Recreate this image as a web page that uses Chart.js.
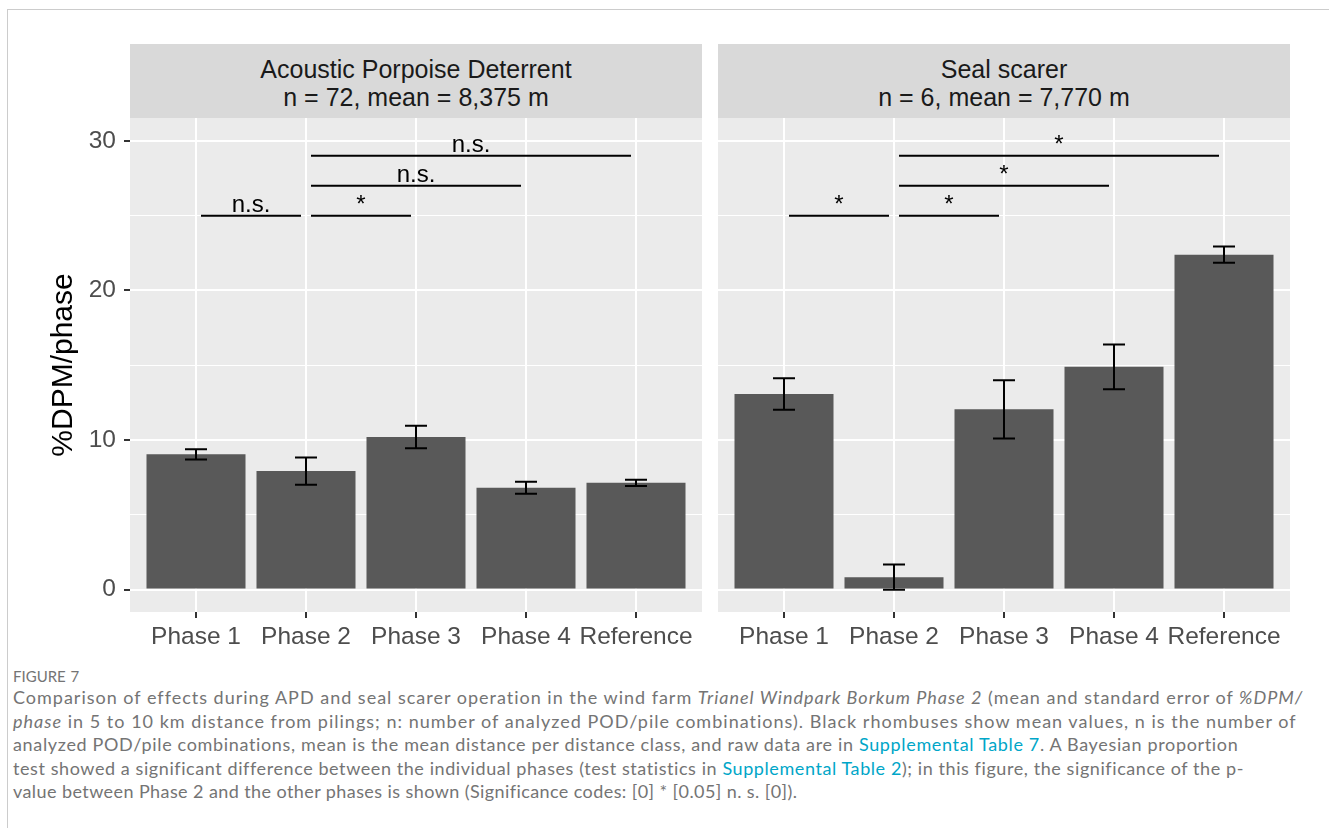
<!DOCTYPE html>
<html>
<head>
<meta charset="utf-8">
<script src="https://cdn.jsdelivr.net/npm/chart.js@4.4.1/dist/chart.umd.min.js"></script>
<style>
  html, body { margin: 0; padding: 0; background: #ffffff; }
  body { width: 1329px; height: 828px; position: relative; overflow: hidden;
         font-family: "Liberation Sans", Arial, sans-serif; }
  #frame { position: absolute; left: 7px; top: 9px; width: 1400px; height: 900px;
           border-top: 1px solid #cccccc; border-left: 1px solid #cccccc; }
  canvas { position: absolute; top: 0; }
  #apd { left: 0; }
  #seal { left: 710px; }
  .strip { position: absolute; top: 44px; width: 572px; height: 74px; background: #d9d9d9;
           color: #1a1a1a; font-size: 25px; line-height: 28px; text-align: center;
           box-sizing: border-box; padding-top: 11px; }
  #stripApd { left: 130px; }
  #stripSeal { left: 718px; }
  #caption { position: absolute; left: 13px; top: 666px; font-family: Lato, "Open Sans", sans-serif;
             color: #747474; }
  #caption .fig { font-size: 15px; line-height: 20px; word-spacing: 1px; }
  #caption .line { font-size: 18px; line-height: 23.5px; white-space: nowrap; }
  #caption span { white-space: nowrap; }
  #caption a { color: #00a6c8; text-decoration: none; }
</style>
</head>
<body>
<div id="frame"></div>
<canvas id="apd" width="710" height="660"></canvas>
<canvas id="seal" width="619" height="660"></canvas>
<div class="strip" id="stripApd"></div>
<div class="strip" id="stripSeal"></div>
<div id="caption">
  <div class="fig">FIGURE 7</div>
  <div class="line"><span data-w="1290">Comparison of effects during APD and seal scarer operation in the wind farm <i>Trianel Windpark Borkum Phase 2</i> (mean and standard error of <i>%DPM/</i></span></div>
  <div class="line"><span data-w="1284"><i>phase</i> in 5 to 10 km distance from pilings; n: number of analyzed POD/pile combinations). Black rhombuses show mean values, n is the number of</span></div>
  <div class="line"><span data-w="1226">analyzed POD/pile combinations, mean is the mean distance per distance class, and raw data are in <a>Supplemental Table 7</a>. A Bayesian proportion</span></div>
  <div class="line"><span data-w="1230">test showed a significant difference between the individual phases (test statistics in <a>Supplemental Table 2</a>); in this figure, the significance of the p-</span></div>
  <div class="line"><span data-w="784">value between Phase 2 and the other phases is shown (Significance codes: [0] * [0.05] n. s. [0]).</span></div>
</div>
<script>
// Phases shown on the x axis of both facets
const categories = ['Phase 1', 'Phase 2', 'Phase 3', 'Phase 4', 'Reference'];

// Mean %DPM/phase and standard error, APD facet
const apdMean = [9.04, 7.92, 10.2, 6.81, 7.14];
const apdSe   = [0.35, 0.91, 0.75, 0.40, 0.21];

// Mean %DPM/phase and standard error, seal scarer facet
const sealMean = [13.08, 0.83, 12.05, 14.89, 22.39];
const sealSe   = [1.05, 0.85, 1.95, 1.50, 0.54];

// y axis: labelled major ticks and unlabelled minor grid positions
const yMajorTicks = [0, 10, 20, 30];
const yMinorTicks = [5, 15, 25];

// Significance brackets: Phase 2 against the other phases
const bracketFrom = [0, 1, 1, 1];
const bracketTo   = [1, 2, 3, 4];
const bracketY    = [25, 25, 27, 29];
const apdBracketLabels  = ['n.s.', '*', 'n.s.', 'n.s.'];
const sealBracketLabels = ['*', '*', '*', '*'];

// Facet strip titles
const apdStrip  = ['Acoustic Porpoise Deterrent', 'n = 72, mean = 8,375 m'];
const sealStrip = ['Seal scarer', 'n = 6, mean = 7,770 m'];

document.getElementById('stripApd').innerHTML = apdStrip.join('<br>');
document.getElementById('stripSeal').innerHTML = sealStrip.join('<br>');

// caption lines are justified to their set widths with letter spacing
document.querySelectorAll('#caption span[data-w]').forEach(el => {
  const target = parseFloat(el.dataset.w);
  const natural = el.getBoundingClientRect().width;
  el.style.letterSpacing = ((target - natural) / el.textContent.length) + 'px';
});

const FONT = '"Liberation Sans", Arial, sans-serif';

// mean ± standard error whiskers
const errorBars = {
  id: 'errorBars',
  afterDatasetsDraw(chart, args, opts) {
    const { ctx, scales: { x, y } } = chart;
    const pts = chart.data.datasets[0].data;
    const half = x.getPixelForValue(0.1) - x.getPixelForValue(0);
    ctx.save();
    ctx.strokeStyle = '#000000';
    ctx.lineWidth = 2;
    pts.forEach((p, i) => {
      const se = opts.se[i];
      const px = x.getPixelForValue(p.x);
      const yt = y.getPixelForValue(p.y + se);
      const yb = y.getPixelForValue(p.y - se);
      ctx.beginPath();
      ctx.moveTo(px, yt); ctx.lineTo(px, yb);
      ctx.moveTo(px - half, yt); ctx.lineTo(px + half, yt);
      ctx.moveTo(px - half, yb); ctx.lineTo(px + half, yb);
      ctx.stroke();
    });
    ctx.restore();
  }
};

// horizontal comparison bars with significance codes above them
const brackets = {
  id: 'brackets',
  afterDatasetsDraw(chart, args, opts) {
    const { ctx, scales: { x, y } } = chart;
    ctx.save();
    ctx.strokeStyle = '#000000';
    ctx.fillStyle = '#000000';
    ctx.lineWidth = 2;
    ctx.font = '24px ' + FONT;
    ctx.textAlign = 'center';
    ctx.textBaseline = 'alphabetic';
    bracketFrom.forEach((from, i) => {
      const x1 = x.getPixelForValue(from) + 5;
      const x2 = x.getPixelForValue(bracketTo[i]) - 5;
      const py = y.getPixelForValue(bracketY[i]);
      ctx.beginPath();
      ctx.moveTo(x1, py); ctx.lineTo(x2, py);
      ctx.stroke();
      ctx.fillText(opts.labels[i], (x1 + x2) / 2, py - 4);
    });
    ctx.restore();
  }
};

function makePanel(id, means, ses, labels, isLeft) {
  return new Chart(document.getElementById(id), {
    type: 'bar',
    data: {
      datasets: [{
        data: means.map((v, i) => ({ x: i, y: v })),
        backgroundColor: '#595959',
        borderWidth: 0,
        barPercentage: 0.9,
        categoryPercentage: 1.0
      }]
    },
    options: {
      responsive: false,
      animation: false,
      devicePixelRatio: 1,
      layout: { padding: { top: 118, left: 0, right: isLeft ? 8 : 39, bottom: 0 } },
      plugins: {
        legend: { display: false },
        tooltip: { enabled: false },
        errorBars: { se: ses },
        brackets: { labels: labels }
      },
      scales: {
        x: {
          type: 'linear',
          min: -0.6,
          max: 4.6,
          offset: false,
          afterBuildTicks: s => { s.ticks = categories.map((c, i) => ({ value: i })); },
          afterFit: s => { s.height = 48; },
          border: { display: false },
          grid: { offset: false, color: '#ffffff', lineWidth: 2, tickColor: '#333333',
                  tickLength: 6, tickWidth: 2 },
          ticks: { autoSkip: false, maxRotation: 0, minRotation: 0, padding: 5,
                   color: '#4d4d4d', font: { family: FONT, size: 24.5 },
                   callback: (v, i) => categories[i] }
        },
        y: {
          min: -1.5,
          max: 31.53,
          afterBuildTicks: s => {
            s.ticks = yMajorTicks.concat(yMinorTicks).sort((a, b) => a - b).map(v => ({ value: v }));
          },
          afterFit: s => { s.width = isLeft ? 130 : 8; },
          border: { display: false },
          grid: {
            color: '#ffffff',
            lineWidth: c => (c.tick && yMajorTicks.includes(c.tick.value)) ? 2 : 1,
            drawTicks: isLeft,
            tickLength: 6,
            tickWidth: 2,
            tickColor: c => (c.tick && yMajorTicks.includes(c.tick.value)) ? '#333333' : 'rgba(0,0,0,0)'
          },
          ticks: { display: isLeft, padding: 8, color: '#4d4d4d', font: { family: FONT, size: 24.5 },
                   callback: v => yMajorTicks.includes(v) ? String(v) : '' },
          title: { display: isLeft, text: '%DPM/phase', color: '#000000',
                   font: { family: FONT, size: 30 }, padding: { top: 46, bottom: 0 } }
        }
      }
    },
    plugins: [errorBars, brackets]
  });
}

// panel background behind the grid
Chart.register({
  id: 'panelBg',
  beforeDraw(chart) {
    const { ctx, chartArea: a } = chart;
    ctx.save();
    ctx.fillStyle = '#ebebeb';
    ctx.fillRect(a.left, a.top, a.right - a.left, a.bottom - a.top);
    ctx.restore();
  }
});

makePanel('apd', apdMean, apdSe, apdBracketLabels, true);
makePanel('seal', sealMean, sealSe, sealBracketLabels, false);
</script>
</body>
</html>
